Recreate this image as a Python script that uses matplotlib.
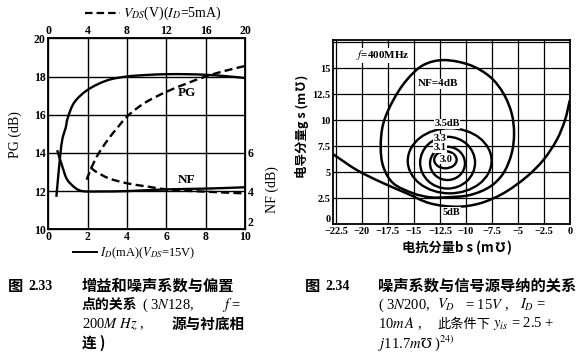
import numpy as np
import matplotlib
matplotlib.use("Agg")
import matplotlib.pyplot as plt
from matplotlib.path import Path
from matplotlib.patches import PathPatch, Ellipse
from matplotlib.lines import Line2D

plt.rcParams['font.family'] = ['Liberation Serif', 'Noto Sans CJK SC', 'DejaVu Sans']
plt.rcParams['mathtext.fontset'] = 'stix'

# ---------------- data: Fig 2.33 ----------------
id_ticks = [0, 2, 4, 6, 8, 10]
vds_ticks = [0, 4, 8, 12, 16, 20]
pg_ticks = [10, 12, 14, 16, 18, 20]
nf_ticks = [2, 4, 6]

# solid: vs I_D (mA), V_DS = 15 V
pg_id_x = [0.41, 0.62, 0.73, 0.88, 0.98, 1.32, 2.0, 3.0, 4.0, 5.0, 6.0, 7.0, 8.0, 9.0, 10.0]
pg_id_y = [11.7, 14.0, 14.8, 15.3, 15.8, 16.64, 17.3, 17.8, 18.0, 18.08, 18.12, 18.12, 18.09, 18.02, 17.92]
nf_id_x = [0.45, 0.71, 0.96, 1.39, 1.72, 2.5, 4.0, 6.0, 8.0, 10.0]
nf_id_y = [6.14, 5.3, 4.6, 4.15, 4.0, 3.98, 4.0, 4.09, 4.13, 4.2]

# dashed: vs V_DS (V), I_D = 5 mA
pg_v_x = [3.9, 4.45, 5.15, 6.1, 7.0, 8.0, 9.0, 10.0, 12.0, 14.0, 16.0, 18.0, 20.0]
pg_v_y = [12.6, 13.3, 14.0, 14.72, 15.3, 15.9, 16.33, 16.68, 17.2, 17.62, 18.0, 18.3, 18.55]
nf_v_x = [4.3, 4.8, 6.15, 8.0, 10.2, 12.0, 16.0, 20.0]
nf_v_y = [5.25, 5.03, 4.67, 4.41, 4.23, 4.09, 3.97, 3.88]

# ---------------- data: Fig 2.34 ----------------
bs_ticks = [-22.5, -20, -17.5, -15, -12.5, -10, -7.5, -5, -2.5, 0]
bs_labels = ['\u221222.5', '\u221220', '\u221217.5', '\u221215', '\u221212.5',
             '\u221210', '\u22127.5', '\u22125', '\u22122.5', '0']
gs_ticks = [0, 2.5, 5, 7.5, 10, 12.5, 15, 17.5]
gs_labels = ['0', '2.5', '5', '7.5', '10', '12.5', '15', '']

# inner contours as ellipses: level, centre b, centre g, half-width, half-height
ring_levels = ['3.0', '3.1', '3.3', '3.5']
ring_cb = [-11.98, -11.78, -11.77, -11.57]
ring_cg = [6.18, 5.83, 5.9, 6.08]
ring_rb = [1.08, 1.68, 2.64, 4.03]
ring_rg = [0.82, 1.6, 2.49, 3.13]

# NF = 4 dB closed contour
nf4_b = [-12.18, -9.62, -7.69, -6.41, -5.61, -5.38, -5.61, -6.41, -7.69, -9.62, -11.86,
         -13.46, -15.07, -16.99, -17.95, -18.2, -17.95, -16.99, -15.7, -14.1]
nf4_g = [15.77, 15.29, 14.16, 12.57, 10.64, 8.72, 6.8, 4.88, 3.59, 2.79, 2.57,
         2.57, 2.95, 3.91, 5.51, 7.43, 9.68, 11.92, 13.85, 15.29]

# NF = 5 dB open contour
nf5_b = [-22.76, -20.5, -18.27, -15.7, -13.46, -10.9, -8.65, -6.41, -4.16, -2.57, -1.28, -0.48, -0.02]
nf5_g = [6.7, 5.19, 4.07, 2.95, 1.99, 1.66, 1.99, 2.95, 4.55, 6.15, 8.08, 10.0, 11.9]

W, H = 583, 357
fig = plt.figure(figsize=(W / 100, H / 100), dpi=100)
fig.patch.set_facecolor('white')


def fx(px):
    return px / W


def fy(py):
    return 1 - py / H


def smooth_path(x, y, sx, sy, closed=False):
    P = np.column_stack([x, y]).astype(float)
    if closed:
        P = np.vstack([P, P[:1]])
    n = len(P)
    Q = P / np.array([sx, sy])
    d = np.hypot(*np.diff(Q, axis=0).T)
    d = np.maximum(d, 1e-9)
    M = np.zeros_like(P)
    for i in range(n):
        if closed:
            ip = i - 1 if i > 0 else n - 2
            inx = i + 1 if i < n - 1 else 1
            dp = d[i - 1] if i > 0 else d[-1]
            dn = d[i] if i < n - 1 else d[0]
        else:
            if i == 0:
                M[i] = (P[1] - P[0]) / d[0]
                continue
            if i == n - 1:
                M[i] = (P[-1] - P[-2]) / d[-1]
                continue
            ip, inx, dp, dn = i - 1, i + 1, d[i - 1], d[i]
        M[i] = (P[inx] - P[ip]) / (dp + dn)
    verts = [P[0]]
    codes = [Path.MOVETO]
    for i in range(n - 1):
        verts += [P[i] + M[i] * d[i] / 3, P[i + 1] - M[i + 1] * d[i] / 3, P[i + 1]]
        codes += [Path.CURVE4] * 3
    return Path(verts, codes)


def boldify(labels):
    for t in labels:
        t.set_fontweight('bold')


# ================= left chart =================
L0, R0, T0, B0 = 48.3, 245.0, 38.3, 229.3
ax = fig.add_axes([fx(L0), fy(B0), (R0 - L0) / W, (B0 - T0) / H])
ax.set_xlim(0, 10)
ax.set_ylim(10, 20)
ax.set_xticks(id_ticks)
ax.set_yticks(pg_ticks)
ax.tick_params(length=0, labelsize=8.5, pad=2)
ax.tick_params(axis='x', pad=1)
boldify(ax.get_xticklabels())
boldify(ax.get_yticklabels())
for s in ax.spines.values():
    s.set_linewidth(1.3)
for v in id_ticks[1:-1]:
    ax.axvline(v, color='k', lw=1.0, zorder=1)
for v in pg_ticks[1:-1]:
    ax.axhline(v, color='k', lw=1.0, zorder=1)

ax_v = ax.twiny()
ax_v.set_xlim(0, 20)
ax_v.set_xticks(vds_ticks)
ax_v.tick_params(length=0, labelsize=8.5, pad=1)
boldify(ax_v.get_xticklabels())

ax_nf = ax.twinx()
ax_nf.set_ylim(2, 12)
ax_nf.set_yticks(nf_ticks)
ax_nf.tick_params(length=0, labelsize=8.5, pad=2)
boldify(ax_nf.get_yticklabels())
ax_nf.get_yticklabels()[0].set_va('bottom')

ax_nfv = ax_nf.twiny()
ax_nfv.set_xlim(0, 20)
ax_nfv.xaxis.set_visible(False)

LW = 1.7
ax.add_patch(PathPatch(smooth_path(pg_id_x, pg_id_y, 10, 10), fill=False, ec='k', lw=LW, zorder=3))
ax_nf.add_patch(PathPatch(smooth_path(nf_id_x, nf_id_y, 10, 10), fill=False, ec='k', lw=LW, zorder=3))
ax_v.add_patch(PathPatch(smooth_path(pg_v_x, pg_v_y, 20, 10), fill=False, ec='k', lw=LW,
                         ls=(0, (3.4, 1.8)), zorder=3))
ax_nfv.add_patch(PathPatch(smooth_path(nf_v_x, nf_v_y, 20, 10), fill=False, ec='k', lw=LW,
                           ls=(0, (3.4, 1.8)), zorder=3))

ax.text(7.05, 17.15, 'PG', fontsize=9.5, fontweight='bold', ha='center', va='center')
ax.text(7.05, 12.6, 'NF', fontsize=9.5, fontweight='bold', ha='center', va='center')

fig.text(fx(15), fy(135), 'PG (dB)', rotation=90, ha='center', va='center', fontsize=10)
fig.text(fx(272), fy(190), 'NF (dB)', rotation=90, ha='center', va='center', fontsize=10)

fig.add_artist(Line2D([fx(85), fx(120)], [fy(13), fy(13)], color='k', lw=1.6,
                      ls=(0, (3.4, 1.8))))
fig.text(fx(123), fy(13), r'$V_{DS}$(V)($I_D$=5mA)', ha='left', va='center', fontsize=10)
fig.add_artist(Line2D([fx(73), fx(97)], [fy(252), fy(252)], color='k', lw=1.4))
fig.text(fx(100), fy(253), r'$I_D$(mA)($V_{DS}$=15V)', ha='left', va='center', fontsize=9)

# ================= right chart =================
L1, R1, T1, B1 = 333.3, 570.0, 40.0, 224.0
ax2 = fig.add_axes([fx(L1), fy(B1), (R1 - L1) / W, (B1 - T1) / H])
ax2.set_xlim(-22.76, 0.0)
ax2.set_ylim(0, 17.7)
ax2.set_xticks(bs_ticks)
ax2.set_xticklabels(bs_labels)
ax2.set_yticks(gs_ticks)
ax2.set_yticklabels(gs_labels)
ax2.tick_params(length=0, labelsize=7.5, pad=2)
boldify(ax2.get_xticklabels())
boldify(ax2.get_yticklabels())
ax2.get_yticklabels()[0].set_va('bottom')
for s in ax2.spines.values():
    s.set_linewidth(1.3)
for v in bs_ticks:
    ax2.axvline(v, color='k', lw=0.9, zorder=1)
for v in gs_ticks[1:]:
    ax2.axhline(v, color='k', lw=0.9, zorder=1)

for cb, cg, rb, rg in zip(ring_cb, ring_cg, ring_rb, ring_rg):
    ax2.add_patch(Ellipse((cb, cg), 2 * rb, 2 * rg, fill=False, ec='k', lw=1.7, zorder=3))
ax2.add_patch(PathPatch(smooth_path(nf4_b, nf4_g, 22.5, 17.5, closed=True),
                        fill=False, ec='k', lw=1.8, zorder=3))
ax2.add_patch(PathPatch(smooth_path(nf5_b, nf5_g, 22.5, 17.5), fill=False, ec='k',
                        lw=1.8, zorder=3))

wb = dict(facecolor='white', edgecolor='none', pad=0.3)
ax2.text(-18.0, 16.25, r'$f$=400MHz', fontsize=8, fontweight='bold', ha='center',
         va='center', bbox=wb, zorder=4)
ax2.text(-12.65, 13.5, 'NF=4dB', fontsize=8, fontweight='bold', ha='center', va='center',
         bbox=wb, zorder=4)
ax2.text(-11.8, 9.65, '3.5dB', fontsize=7.5, fontweight='bold', ha='center', va='center',
         bbox=wb, zorder=4)
ax2.text(-12.5, 8.2, '3.3', fontsize=7.5, fontweight='bold', ha='center', va='center',
         bbox=wb, zorder=4)
ax2.text(-12.5, 7.35, '3.1', fontsize=7.5, fontweight='bold', ha='center', va='center',
         bbox=wb, zorder=4)
ax2.text(-11.94, 6.25, '3.0', fontsize=7.5, fontweight='bold', ha='center', va='center',
         bbox=wb, zorder=4)
ax2.text(-11.4, 1.15, '5dB', fontsize=7.5, fontweight='bold', ha='center', va='center',
         bbox=wb, zorder=4)

cjk = ['Noto Sans CJK SC', 'DejaVu Sans']
fig.text(fx(302), fy(126), '电导分量g s (m\u2127)', rotation=90, ha='center', va='center',
         fontsize=9, fontweight='bold', family=cjk)
fig.text(fx(457), fy(248), '电抗分量b s (m\u2127)', ha='center', va='center',
         fontsize=9.5, fontweight='bold', family=cjk)

# ================= captions =================
y1, y2, y3, y4 = 286, 305, 324, 343
ls_ = 10.5
# left caption
fig.text(fx(8), fy(y1), '图', fontsize=11, fontweight='bold', family=cjk, va='center')
fig.text(fx(28), fy(y1), '2.33', fontsize=10, fontweight='bold', va='center')
fig.text(fx(82), fy(y1), '增益和噪声系数与偏置', fontsize=11, fontweight='bold', family=cjk,
         va='center')
fig.text(fx(82), fy(y2), '点的关系', fontsize=10, fontweight='bold', family=cjk, va='center')
fig.text(fx(142), fy(y2), r'( 3$N$128,', fontsize=ls_, va='center')
fig.text(fx(222), fy(y2), r'$f$ =', fontsize=ls_, va='center')
fig.text(fx(82), fy(y3), r'200$M\ Hz$ ,', fontsize=ls_, va='center')
fig.text(fx(172), fy(y3), '源与衬底相', fontsize=10.5, fontweight='bold', family=cjk, va='center')
fig.text(fx(82), fy(y4), '连 )', fontsize=10.5, fontweight='bold', family=cjk, va='center')

# right caption
fig.text(fx(305), fy(y1), '图', fontsize=11, fontweight='bold', family=cjk, va='center')
fig.text(fx(325), fy(y1), '2.34', fontsize=10, fontweight='bold', va='center')
fig.text(fx(378), fy(y1), '噪声系数与信号源导纳的关系', fontsize=11, fontweight='bold',
         family=cjk, va='center')
fig.text(fx(378), fy(y2), r'( 3$N$200,', fontsize=ls_, va='center')
fig.text(fx(437), fy(y2), r'$V_D$', fontsize=ls_, va='center')
fig.text(fx(465), fy(y2), r'= 15$V$ ,', fontsize=ls_, va='center')
fig.text(fx(520), fy(y2), r'$I_D$ =', fontsize=ls_, va='center')
fig.text(fx(378), fy(y3), r'10$m\,A$ ,', fontsize=ls_, va='center')
fig.text(fx(437), fy(y3), '此条件下', fontsize=9.5, family=cjk, va='center')
fig.text(fx(493), fy(y3), r'$y_{is}$ = 2.5 +', fontsize=ls_, va='center')
fig.text(fx(378), fy(y4), r'$j$11.7$m\mho$ )$^{24)}$', fontsize=ls_, va='center')

fig.savefig('out.png', dpi=100, facecolor='white')
